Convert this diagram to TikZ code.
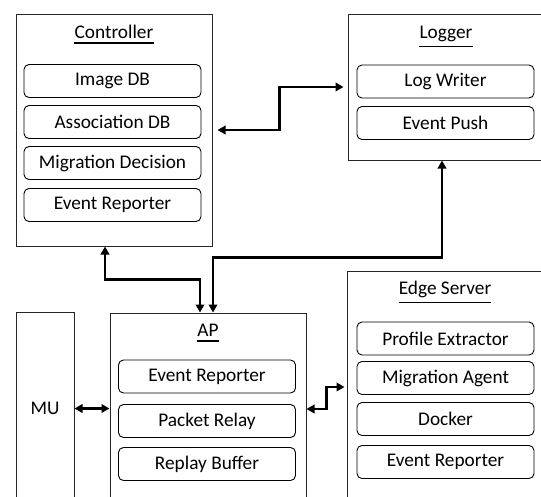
\documentclass[tikz,border=0pt]{standalone}
\usepackage{fontspec}
\setmainfont{Carlito}
\usetikzlibrary{arrows.meta}
\begin{document}
\begin{tikzpicture}[x=1pt,y=-1pt,
  outer/.style={draw=black!85,line width=1pt,minimum width=196pt,inner sep=0pt},
  inner/.style={draw=black,line width=0.9pt,rounded corners=5pt,minimum width=177pt,minimum height=33pt,inner sep=0pt,font=\fontsize{19.3}{22}\selectfont},
  ttl/.style={inner sep=0pt,font=\fontsize{19.3}{22}\selectfont},
  uline/.style={line width=1.2pt},
  arr/.style={line width=2.2pt,{Triangle[length=8pt,width=8.5pt]}-{Triangle[length=8pt,width=8.5pt]}}]
\useasboundingbox (0,0) rectangle (541,496);
\clip (0,0) rectangle (541,496);
% outer boxes
\node[outer,minimum height=232pt] (ctrl) at (114,130) {};
\node[outer,minimum height=146pt] (logger) at (446,87) {};
\node[outer,minimum height=192pt] (ap) at (208,409) {};
\node[outer,minimum width=58pt,minimum height=193pt] (mu) at (45,408.5) {};
\node[outer,minimum height=232pt] (es) at (445,387) {};
% titles
\node[ttl,anchor=base] (ctrlt) at (114,38) {Controller};
\node[ttl,anchor=base] (loggert) at (446,38) {Logger};
\node[ttl,anchor=base] (apt) at (208,336) {AP};
\node[ttl,anchor=base] (est) at (445,294) {Edge Server};
\node[ttl] (mut) at (45,408) {MU};
\draw[uline] ([yshift=-5pt]ctrlt.base west) -- ([yshift=-5pt]ctrlt.base east);
\draw[uline] ([yshift=-5pt]apt.base west) -- ([yshift=-5pt]apt.base east);
\draw[uline] (loggert.west |- 0,46.5) -- (loggert.east |- 0,46.5);
\draw[uline] (est.west |- 0,302.5) -- (est.east |- 0,302.5);
% controller inner
\node[inner] (c1) at (112.5,81) {Image DB};
\node[inner] (c2) at (112.5,122) {Association DB};
\node[inner] (c3) at (112.5,163) {Migration Decision};
\node[inner] (c4) at (112.5,205) {Event Reporter};
% logger inner
\node[inner] (l1) at (445.5,81.5) {Log Writer};
\node[inner] (l2) at (445.5,123) {Event Push};
% AP inner
\node[inner] (a1) at (207,376.5) {Event Reporter};
\node[inner] (a2) at (207,421) {Packet Relay};
\node[inner] (a3) at (207,464) {Replay Buffer};
% edge server inner
\node[inner] (e1) at (445.5,338.5) {Profile Extractor};
\node[inner] (e2) at (445.5,378) {Migration Agent};
\node[inner] (e3) at (445.5,419) {Docker};
\node[inner] (e4) at (445.5,462) {Event Reporter};
% connectors
\draw[arr] ([xshift=5pt]ctrl.east) -- ++(62,0) |- ([xshift=-4pt]logger.west);
\draw[arr] ([xshift=-9pt]ctrl.south) -- ++(0,33) -| ([xshift=-8pt]ap.north);
\draw[arr] ([xshift=-4pt]logger.south) -- ++(0,97) -| ([xshift=5pt]ap.north);
\draw[arr] (mu.east) -- (mu.east -| ap.west);
\draw[arr] (ap.east) -- ++(20,0) |- ([xshift=-2pt]es.west);
\end{tikzpicture}
\end{document}
